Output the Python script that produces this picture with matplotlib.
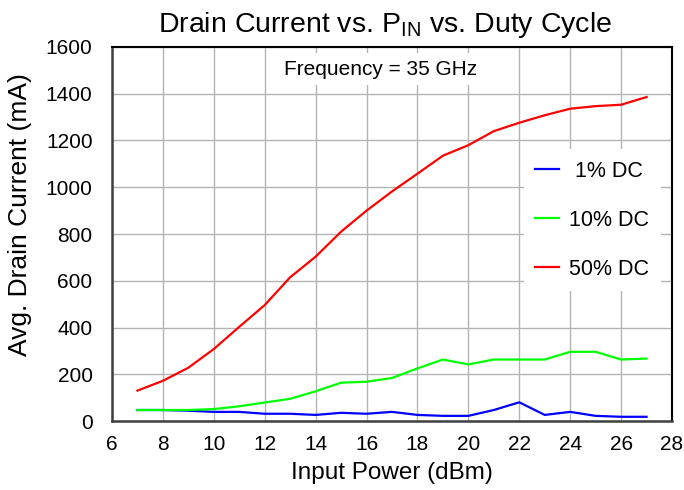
import matplotlib
matplotlib.use("Agg")
import matplotlib.pyplot as plt

plt.rcParams['font.family'] = ['Liberation Sans', 'DejaVu Sans']
plt.rcParams['mathtext.fontset'] = 'custom'
plt.rcParams['mathtext.rm'] = 'Liberation Sans'

pin_dbm = [7, 8, 9, 10, 11, 12, 13, 14, 15, 16, 17, 18, 19, 20, 21, 22, 23, 24, 25, 26, 27]
dc1 = [47, 47, 44, 39, 39, 31, 31, 26, 35, 31, 39, 26, 22, 22, 47, 80, 26, 39, 22, 18, 18]
dc10 = [47, 47, 47, 51, 63, 79, 95, 127, 164, 168, 184, 225, 263, 242, 263, 263, 263, 296, 296, 263, 267]
dc50 = [130, 172, 228, 308, 403, 496, 615, 703, 810, 900, 982, 1058, 1135, 1180, 1240, 1276, 1308, 1336, 1347, 1353, 1386]
series_labels = [' 1% DC', '10% DC', '50% DC']
series_colors = ['#0000ff', '#00ff00', '#ff0000']
x_ticks = list(range(6, 29, 2))
y_ticks = list(range(0, 1601, 200))

W, H = 684, 490
fig = plt.figure(figsize=(W / 100, H / 100), dpi=100)
ax = fig.add_axes([112 / W, 1 - 421 / H, (672 - 112) / W, (421 - 47) / H])

for vals, lab, col in zip([dc1, dc10, dc50], series_labels, series_colors):
    ax.plot(pin_dbm, vals, color=col, lw=1.6, label=lab)

ax.set_xlim(6, 28)
ax.set_ylim(0, 1600)
ax.set_xticks(x_ticks)
ax.set_yticks(y_ticks)
ax.tick_params(axis='both', length=0, labelsize=15)
ax.tick_params(axis='x', pad=10)
ax.tick_params(axis='y', pad=14)
ax.grid(True, color='#b4b4b4', lw=1.0)
ax.set_axisbelow(True)
for side in ['left', 'bottom']:
    ax.spines[side].set_color('#404040')
    ax.spines[side].set_linewidth(1.8)
for side in ['top', 'right']:
    ax.spines[side].set_color('#000000')
    ax.spines[side].set_linewidth(1.5)

ax.set_xlabel('Input Power (dBm)', fontsize=17.5, labelpad=6)
ax.set_ylabel('Avg. Drain Current (mA)', fontsize=19)
ax.yaxis.set_label_coords(-0.143, (421 - 215) / 374)
ax.set_title(r'Drain Current vs. P$_{\mathregular{IN}}$ vs. Duty Cycle', fontsize=20.5,
             x=0.487, pad=11)

ax.text(0.480, 0.941, 'Frequency = 35 GHz', transform=ax.transAxes, ha='center', va='center',
        fontsize=15, bbox=dict(facecolor='white', edgecolor='none', pad=5))

leg = ax.legend(loc='upper left', bbox_to_anchor=(0.735, 0.728), frameon=True, fancybox=False,
                edgecolor='none', facecolor='white', framealpha=1, fontsize=15.5,
                handlelength=1.1, handletextpad=0.45, labelspacing=1.3, borderpad=0.55,
                borderaxespad=0)

fig.savefig('out.png', dpi=100)
